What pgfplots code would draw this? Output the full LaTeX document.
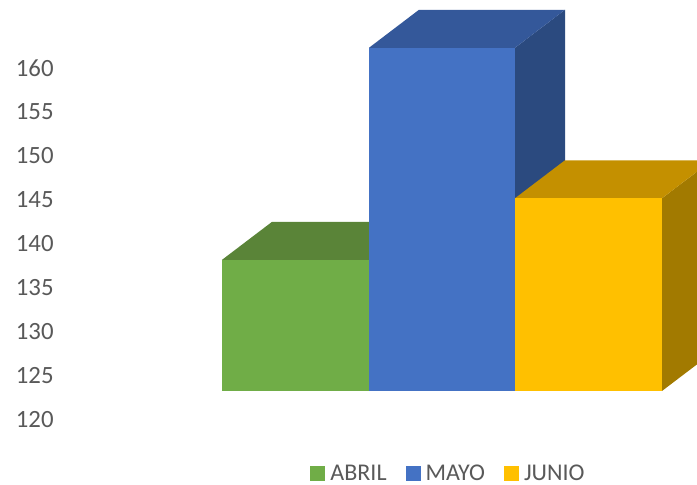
\documentclass[border=0pt]{standalone}
\usepackage{fontspec}
\setmainfont{Carlito}
\usepackage{pgfplots}
\pgfplotsset{compat=1.18}
\definecolor{txt}{HTML}{595959}
\definecolor{gfront}{HTML}{70AD47}
\definecolor{gtop}{HTML}{5A8438}
\definecolor{gside}{HTML}{4E7430}
\definecolor{bfront}{HTML}{4472C4}
\definecolor{btop}{HTML}{34589A}
\definecolor{bside}{HTML}{2B4A7F}
\definecolor{yfront}{HTML}{FFC000}
\definecolor{ytop}{HTML}{C49000}
\definecolor{yside}{HTML}{A27A00}
\begin{document}
\begin{tikzpicture}
\path[use as bounding box] (0,0) rectangle (348.5pt,242pt);
\begin{axis}[
  at={(28.5pt,0pt)}, anchor=south west,
  scale only axis, width=320pt, height=242pt,
  xmin=57, xmax=697, ymin=112.7273, ymax=167.7273,
  axis line style={draw=none},
  xtick=\empty, ytick={120,125,...,160},
  major tick length=0pt,
  yticklabel style={font=\fontsize{12.4}{14}\selectfont, text=txt, inner sep=0pt, xshift=-1.5pt},
  /pgf/number format/assume math mode=true,
  legend columns=3,
  legend cell align=left,
  legend style={at={(0.6125,0.021)}, anchor=center, draw=none, fill=none, inner sep=0pt,
    font=\fontsize{12}{14}\selectfont, text=txt,
    nodes={inner sep=1.5pt},
    /tikz/every odd column/.append style={column sep=1pt},
    /tikz/every even column/.append style={column sep=8pt}},
  legend image code/.code={\fill[#1, draw=none] (0pt,-3.75pt) rectangle (7.5pt,3.75pt);},
]
\addlegendimage{fill=gfront, draw=none}\addlegendentry{ABRIL}
\addlegendimage{fill=bfront, draw=none}\addlegendentry{MAYO}
\addlegendimage{fill=yfront, draw=none}\addlegendentry{JUNIO}
% ABRIL = 138.2
\addplot[fill=gside, draw=none, forget plot] coordinates {(369,123.3) (419,127.618) (419,142.518) (369,138.2)} -- cycle;
\addplot[fill=gtop, draw=none, forget plot] coordinates {(222,138.2) (369,138.2) (419,142.518) (272,142.518)} -- cycle;
\addplot[fill=gfront, draw=none, forget plot] coordinates {(222,123.3) (369,123.3) (369,138.2) (222,138.2)} -- cycle;
% MAYO = 162.3
\addplot[fill=bside, draw=none, forget plot] coordinates {(515,123.3) (565,127.618) (565,166.618) (515,162.3)} -- cycle;
\addplot[fill=btop, draw=none, forget plot] coordinates {(369,162.3) (515,162.3) (565,166.618) (419,166.618)} -- cycle;
\addplot[fill=bfront, draw=none, forget plot] coordinates {(369,123.3) (515,123.3) (515,162.3) (369,162.3)} -- cycle;
% JUNIO = 145.2
\addplot[fill=yside, draw=none, forget plot] coordinates {(662,123.3) (712,127.618) (712,149.518) (662,145.2)} -- cycle;
\addplot[fill=ytop, draw=none, forget plot] coordinates {(515,145.2) (662,145.2) (712,149.518) (565,149.518)} -- cycle;
\addplot[fill=yfront, draw=none, forget plot] coordinates {(515,123.3) (662,123.3) (662,145.2) (515,145.2)} -- cycle;
\end{axis}
\end{tikzpicture}
\end{document}
